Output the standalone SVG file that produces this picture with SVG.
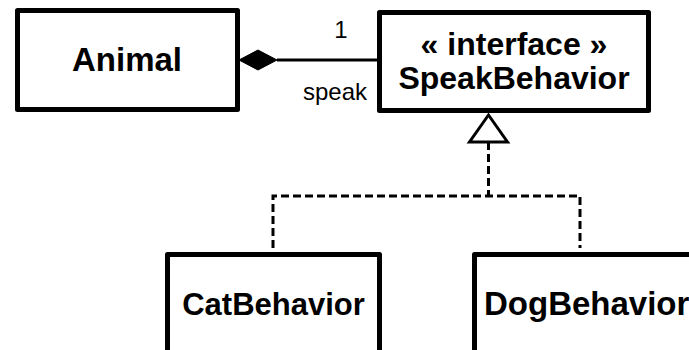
<svg xmlns="http://www.w3.org/2000/svg" width="689" height="350" viewBox="0 0 689 350">
<style>
.box{fill:#fff;stroke:#000;stroke-width:5;stroke-linejoin:round}
.name{font-family:"Liberation Sans",Arial,sans-serif;font-weight:bold;font-size:32px;text-anchor:middle;fill:#000}
.lbl{font-family:"Liberation Sans",Arial,sans-serif;font-size:24px;text-anchor:middle;fill:#000}
.solid{fill:none;stroke:#000;stroke-width:3}
.dash{fill:none;stroke:#000;stroke-width:3;stroke-dasharray:8 4}
</style>
<rect width="689" height="350" fill="#fff"/>
<g id="connectors">
<line class="solid" x1="277" y1="60" x2="379" y2="60"/>
<polygon points="239,60 258,50 277,60 258,70" fill="#000" stroke="#000" stroke-width="1"/>
<text class="lbl" x="341" y="38">1</text>
<text class="lbl" x="335" y="100">speak</text>
<path class="dash" d="M488.5,142 V196 M273,248 V196 H580 V248"/>
<polygon points="488.5,115 469.5,142 507.5,142" fill="#fff" stroke="#000" stroke-width="3" stroke-linejoin="miter"/>
</g>
<g id="Animal">
<rect class="box" x="17.5" y="10.5" width="220" height="99"/>
<text class="name" x="127" y="71" style="font-size:33px">Animal</text>
</g>
<g id="SpeakBehavior">
<rect class="box" x="379.5" y="12.5" width="269" height="98"/>
<text class="name" x="514" y="55">« interface »</text>
<text class="name" x="514" y="89">SpeakBehavior</text>
</g>
<g id="CatBehavior">
<rect class="box" x="167.5" y="254.5" width="212" height="99"/>
<text class="name" x="273.5" y="315" style="font-size:31px">CatBehavior</text>
</g>
<g id="DogBehavior">
<rect class="box" x="474.5" y="254.5" width="240" height="99"/>
<text class="name" x="484" y="315" style="font-size:33px;text-anchor:start">DogBehavior</text>
</g>
</svg>
